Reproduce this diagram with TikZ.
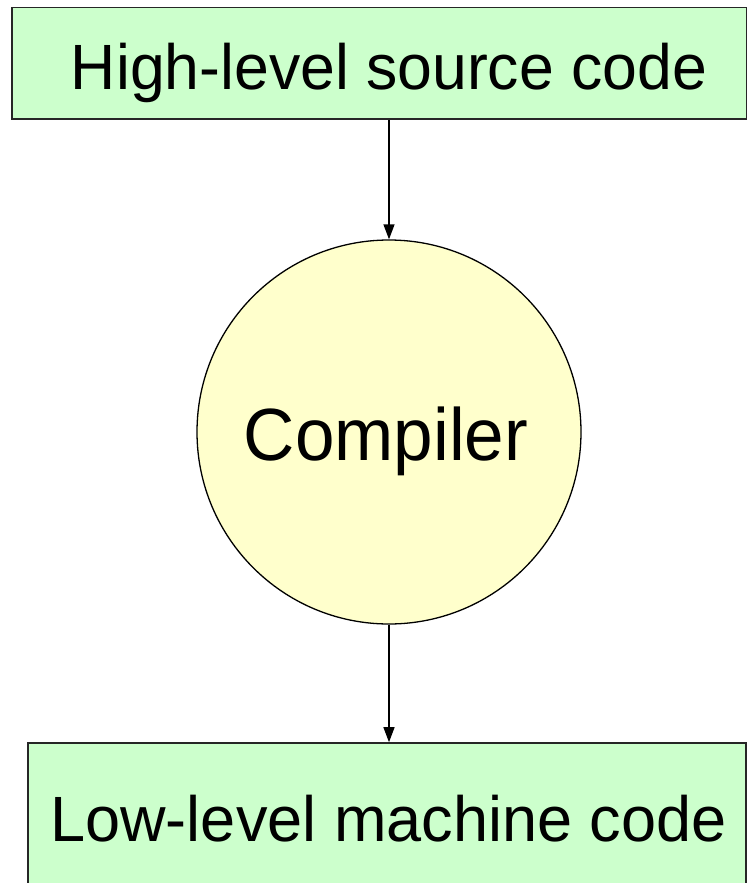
\documentclass[tikz,border=0pt]{standalone}
\usepackage{fontspec}
\setmainfont{Liberation Sans}
\usetikzlibrary{arrows.meta}
\definecolor{boxgreen}{HTML}{CCFFCC}
\definecolor{circyellow}{HTML}{FFFFCC}
\begin{document}
\begin{tikzpicture}[x=1pt,y=-1pt,
  codebox/.style={draw=black!85, line width=1.6pt, fill=boxgreen, rectangle, inner sep=0pt},
  compcircle/.style={draw=black, line width=1.3pt, fill=circyellow, circle, inner sep=0pt, minimum size=384pt},
  boxlabel/.style={font=\fontsize{64pt}{70pt}\selectfont, anchor=base, inner sep=0pt},
  circlabel/.style={font=\fontsize{74pt}{80pt}\selectfont, anchor=base, inner sep=0pt},
  flow/.style={draw=black, line width=1.3pt, -{Triangle[length=15pt,width=11pt]}}]
\useasboundingbox (0,0) rectangle (748,883);
\node[codebox, minimum width=734.5pt, minimum height=111.5pt] (src) at (379.25,63.25) {};
\node[boxlabel] (srct) at (389,89) {\scalebox{0.977}[1]{High-level source code}};
\node[compcircle] (comp) at (389,432) {};
\node[circlabel] (compt) at (386,460) {\scalebox{0.96}[1]{Compiler}};
\node[codebox, minimum width=718pt, minimum height=177pt] (mach) at (387,831.5) {};
\node[boxlabel] (macht) at (388.5,841) {\scalebox{0.985}[1]{Low-level machine code}};
\draw[flow] (src.south -| comp.north) -- (comp.north);
\draw[flow] (comp.south) -- (comp.south |- mach.north);
\end{tikzpicture}
\end{document}
